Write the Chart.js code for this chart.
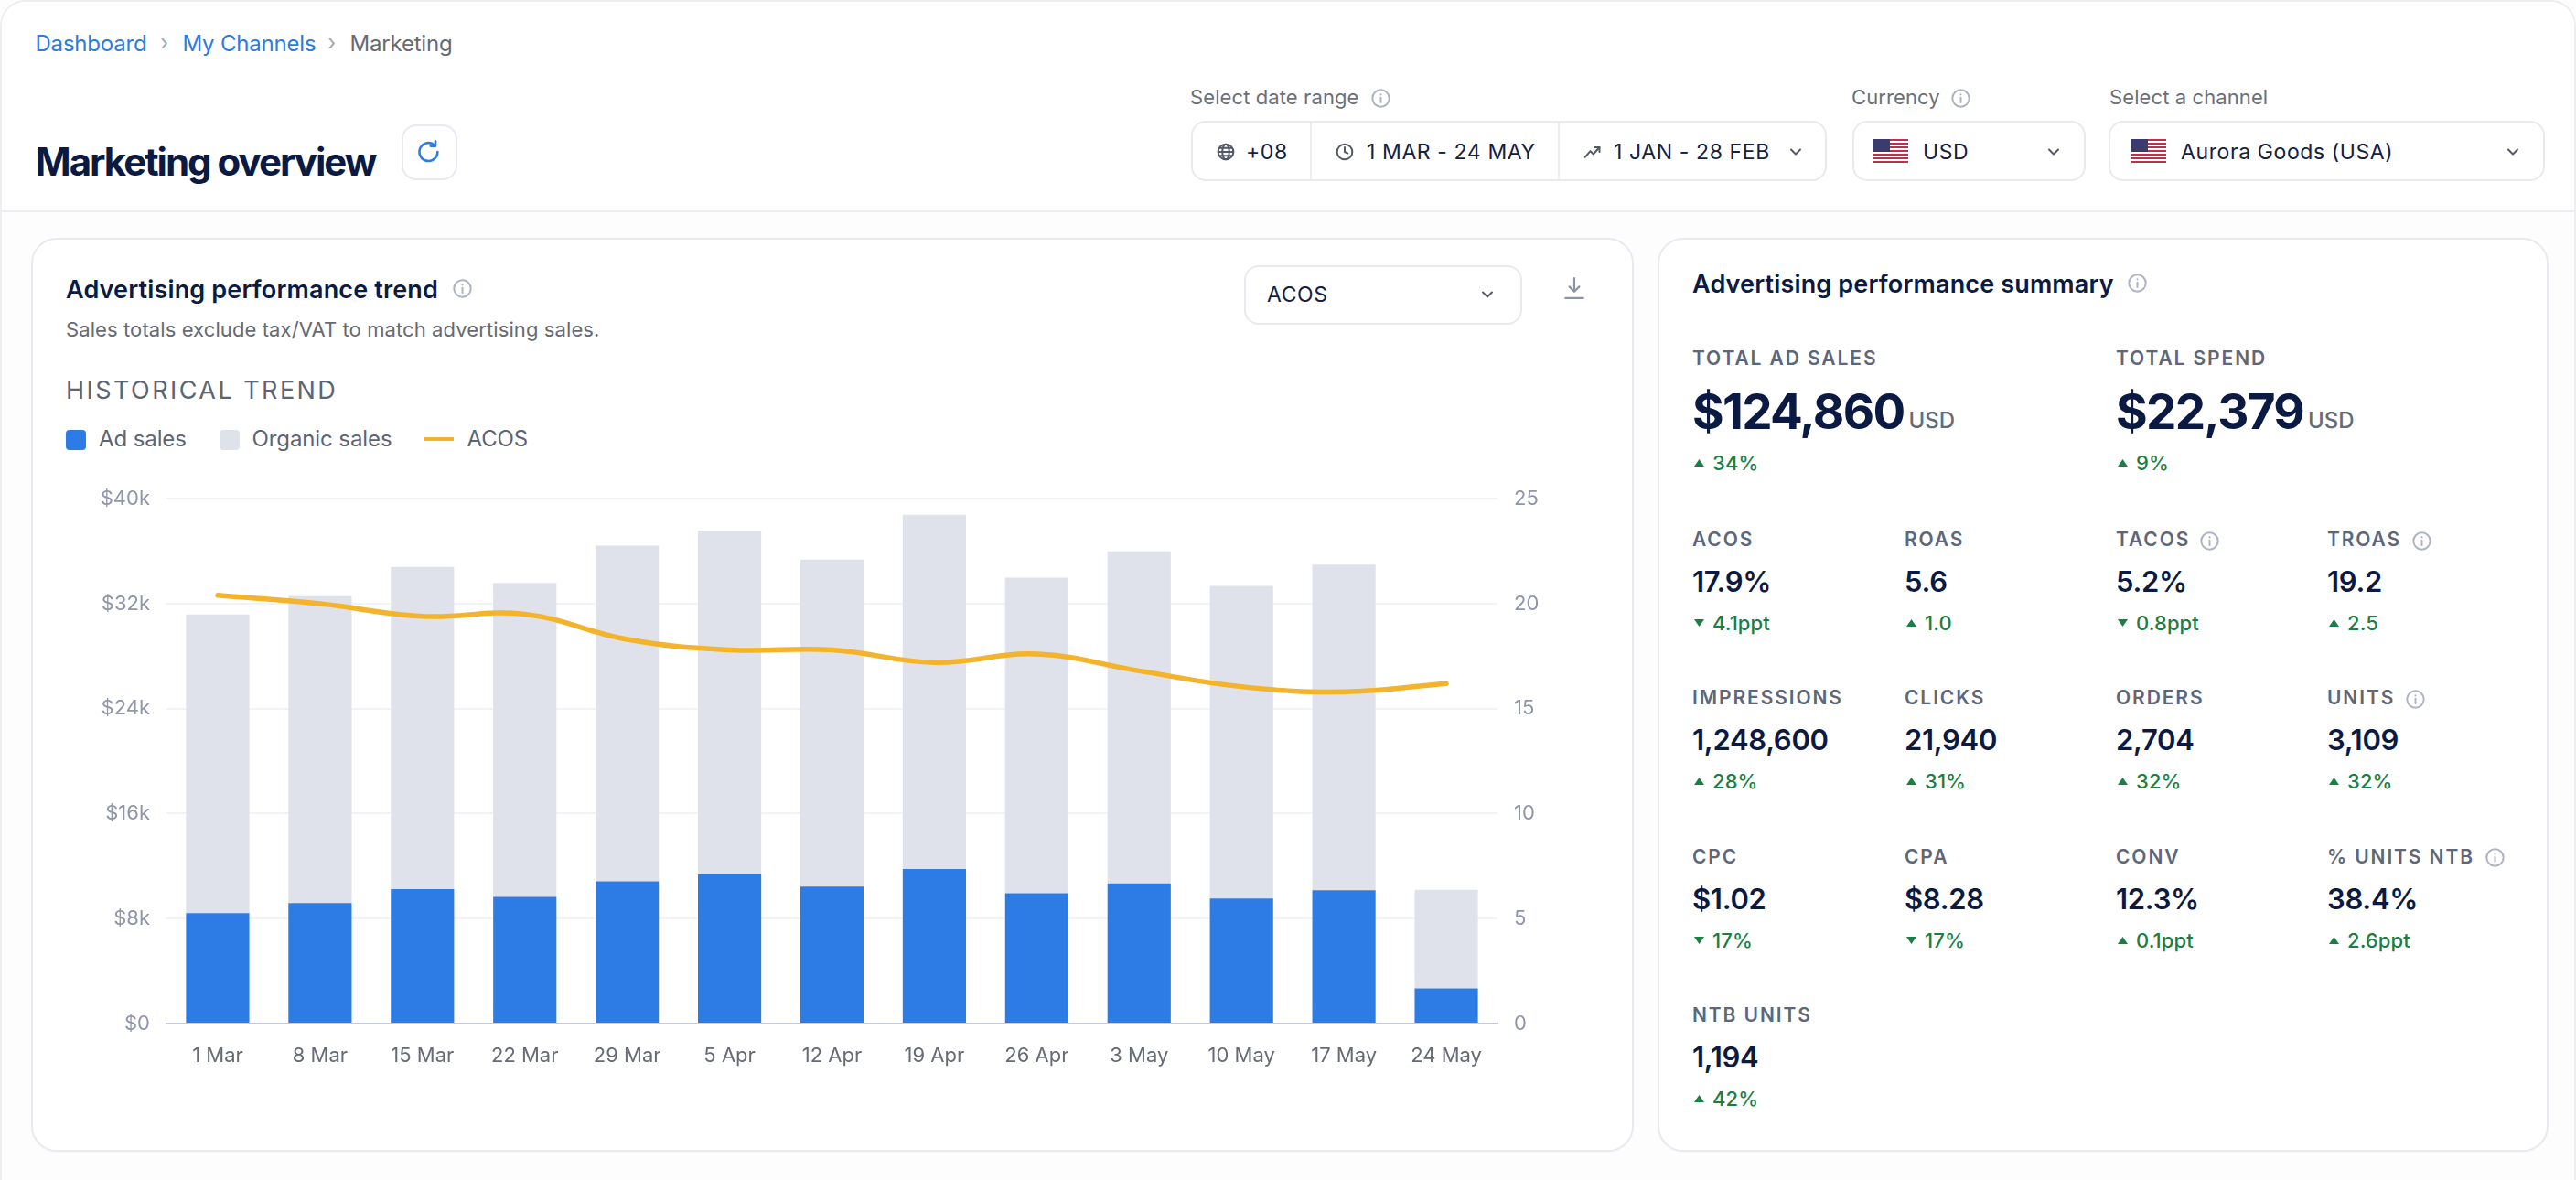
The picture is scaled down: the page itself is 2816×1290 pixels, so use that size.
<!DOCTYPE html>
<html>
<head>
<meta charset="utf-8">
<title>Marketing overview</title>
<script src="https://cdn.jsdelivr.net/npm/chart.js@4"></script>
<style>
  html, body { margin: 0; padding: 0; background: #fdfdfe; }
  body { width: 2816px; height: 1290px; position: relative; overflow: hidden; font-family: Inter, "Noto Sans", sans-serif; color: #0b1a42; }
  .frame { position: absolute; left: 0; top: 0; width: 2812px; height: 1300px; border: 2px solid #eceef2; border-radius: 28px 28px 0 0; }
  .header { position: absolute; left: 2px; top: 2px; width: 2812px; height: 228px; background: #fff; border-bottom: 2px solid #eceef2; border-radius: 26px 26px 0 0; }
  .t { position: absolute; white-space: nowrap; line-height: 1; transform: translateY(-50%); }
  .box { position: absolute; box-sizing: border-box; background: #fff; border: 2px solid #e9eaef; border-radius: 16px; }
  .card { position: absolute; box-sizing: border-box; background: #fff; border: 2px solid #e9eaef; border-radius: 28px; top: 260px; height: 999px; box-shadow: 0 1px 2px rgba(20,30,60,.03); }
  .vline { position: absolute; width: 2px; top: 134px; height: 62px; background: #eceef2; }
  svg.i { position: absolute; overflow: visible; }
  .crumb { font-size: 24px; letter-spacing: -.2px; }
  .lab { font-size: 22px; color: #6b6f78; letter-spacing: .1px; }
  .sel { font-size: 23px; font-weight: 400; color: #14213f; letter-spacing: .6px; }
  .h2 { font-size: 27px; font-weight: 600; letter-spacing: .15px; }
  .mname { font-size: 21px; font-weight: 600; color: #5e6679; letter-spacing: 1.9px; }
  .mval { font-size: 31px; font-weight: 600; letter-spacing: -.3px; }
  .mbig { font-size: 53px; font-weight: 700; letter-spacing: -1.7px; }
  .mdelta { font-size: 22px; font-weight: 500; color: #1a7f43; letter-spacing: .1px; }
  .musd { font-size: 24px; font-weight: 500; color: #666b75; }
  .lg { font-size: 24px; color: #5d6472; letter-spacing: -.1px; }
  #chartWrap { position: absolute; left: 60px; top: 514px; width: 1700px; height: 686px; }
</style>
</head>
<body>
<div class="frame"></div>
<div class="header"></div>
<div class="card" style="left:34px;width:1752px"></div>
<div class="card" style="left:1812px;width:974px"></div>
<div id="chartWrap"><canvas id="trendChart" width="1700" height="686"></canvas></div>
<div id="ui"></div>

<script>
// chart data
const categories = ["1 Mar", "8 Mar", "15 Mar", "22 Mar", "29 Mar", "5 Apr", "12 Apr", "19 Apr", "26 Apr", "3 May", "10 May", "17 May", "24 May"];
const adSales = [8410, 9190, 10250, 9660, 10840, 11370, 10440, 11780, 9940, 10690, 9530, 10160, 2680];
const organicSales = [22770, 23390, 24550, 23920, 25580, 26200, 24920, 27000, 24050, 25290, 23830, 24820, 7510];
const acos = [20.4, 20.0, 19.4, 19.5, 18.3, 17.8, 17.8, 17.2, 17.6, 16.8, 16.05, 15.8, 16.2];
const salesTicks = ["$0", "$8k", "$16k", "$24k", "$32k", "$40k"];
const acosTicks = ["0", "5", "10", "15", "20", "25"];

// summary panel
const bigNames = ["TOTAL AD SALES", "TOTAL SPEND"];
const bigValues = ["$124,860", "$22,379"];
const bigDeltas = ["34%", "9%"];
const metricNames = ["ACOS", "ROAS", "TACOS", "TROAS", "IMPRESSIONS", "CLICKS", "ORDERS", "UNITS", "CPC", "CPA", "CONV", "% UNITS NTB", "NTB UNITS"];
const metricValues = ["17.9%", "5.6", "5.2%", "19.2", "1,248,600", "21,940", "2,704", "3,109", "$1.02", "$8.28", "12.3%", "38.4%", "1,194"];
const metricDeltas = ["4.1ppt", "1.0", "0.8ppt", "2.5", "28%", "31%", "32%", "32%", "17%", "17%", "0.1ppt", "2.6ppt", "42%"];
const metricDown = ["ACOS", "TACOS", "CPC", "CPA"];
const metricInfo = { TACOS: 2415, TROAS: 2647, UNITS: 2640, "% UNITS NTB": 2727 };

const ui = document.getElementById("ui");

function text(str, x, y, cls, extra) {
  const el = document.createElement("div");
  el.className = "t " + (cls || "");
  el.textContent = str;
  el.style.left = x + "px";
  el.style.top = y + "px";
  if (extra) el.style.cssText += extra;
  ui.appendChild(el);
  return el;
}

function box(x, y, w, h) {
  const el = document.createElement("div");
  el.className = "box";
  el.style.cssText = `left:${x}px;top:${y}px;width:${w}px;height:${h}px`;
  ui.appendChild(el);
}

function icon(inner, cx, cy, size, color, sw) {
  const s = size / 24;
  ui.insertAdjacentHTML("beforeend",
    `<svg class="i" viewBox="0 0 24 24" width="${size}" height="${size}" style="left:${cx - size / 2}px;top:${cy - size / 2}px" fill="none" stroke="${color}" stroke-width="${(sw || 2) / s}" stroke-linecap="round" stroke-linejoin="round">${inner}</svg>`);
}

const INFO = '<circle cx="12" cy="12" r="10.5"/><line x1="12" y1="11" x2="12" y2="17"/><line x1="12" y1="7.2" x2="12" y2="7.3"/>';
const CHEV = '<polyline points="6,9 12,15 18,9"/>';
const GLOBE = '<circle cx="12" cy="12" r="10"/><ellipse cx="12" cy="12" rx="4.5" ry="10"/><line x1="2" y1="12" x2="22" y2="12"/><line x1="3.5" y1="7" x2="20.5" y2="7"/><line x1="3.5" y1="17" x2="20.5" y2="17"/>';
const CLOCK = '<circle cx="12" cy="12" r="10"/><polyline points="12,6 12,12 16,14"/>';
const TREND = '<polyline points="2,19 9,11 13,15 21,6"/><polyline points="15,6 21,6 21,12"/>';
const REFRESH = '<path d="M20 12a8.5 8.5 0 1 1-2.6-6.1"/><polyline points="18,2 18,6.5 13.5,6.5"/>';
const DOWNLOAD = '<line x1="12" y1="2" x2="12" y2="15"/><polyline points="7,10.5 12,15.5 17,10.5"/><line x1="3" y1="22" x2="21" y2="22"/>';

function flag(x, y) {
  let stripes = "";
  for (let i = 0; i < 7; i++) stripes += `<rect x="0" y="${i * 4}" width="38" height="2" fill="#c0304a"/>`;
  ui.insertAdjacentHTML("beforeend",
    `<svg class="i" viewBox="0 0 38 26" width="38" height="26" style="left:${x}px;top:${y}px;border-radius:4px"><rect width="38" height="26" fill="#fff"/>${stripes}<rect width="18" height="14" fill="#3c3b6e"/></svg>`);
}

// breadcrumb + title
text("Dashboard", 38.5, 47.5, "crumb", "color:#2d7be5");
text("›", 175, 47, "crumb", "color:#a5aab5");
text("My Channels", 199.5, 47.5, "crumb", "color:#2d7be5");
text("›", 358, 47, "crumb", "color:#a5aab5");
text("Marketing", 382.5, 47.5, "crumb", "color:#666a72");
text("Marketing overview", 38.5, 177, "", "font-size:42px;font-weight:700;letter-spacing:-2px");
box(439, 136, 61, 61);
icon(REFRESH, 469, 166, 28, "#2d7be5", 2.6);

// filters
text("Select date range", 1301, 106, "lab");
icon(INFO, 1509, 107, 21, "#aeb4c6");
box(1302, 132, 695, 66);
ui.insertAdjacentHTML("beforeend", '<div class="vline" style="left:1432px"></div><div class="vline" style="left:1703px"></div>');
icon(GLOBE, 1340, 166, 20, "#555a66");
text("+08", 1362, 166, "sel");
icon(CLOCK, 1470, 166, 20, "#555a66");
text("1 MAR - 24 MAY", 1494, 166, "sel");
icon(TREND, 1741, 166, 20, "#555a66");
text("1 JAN - 28 FEB", 1764, 166, "sel");
icon(CHEV, 1963, 166, 20, "#555a66");
text("Currency", 2024, 106, "lab");
icon(INFO, 2143, 107, 21, "#aeb4c6");
box(2025, 132, 255, 66);
flag(2048, 152);
text("USD", 2102, 166, "sel");
icon(CHEV, 2245, 166, 20, "#555a66");
text("Select a channel", 2306, 106, "lab");
box(2305, 132, 477, 66);
flag(2330, 152);
text("Aurora Goods (USA)", 2384, 166, "sel");
icon(CHEV, 2747, 166, 20, "#555a66");

// left card header
text("Advertising performance trend", 72, 316, "h2");
icon(INFO, 505, 315, 21, "#aeb4c6");
text("Sales totals exclude tax/VAT to match advertising sales.", 72, 360, "lab", "letter-spacing:.1px;color:#666a72");
box(1360, 290, 304, 65);
text("ACOS", 1385, 322, "sel");
icon(CHEV, 1626, 322, 20, "#555a66");
icon(DOWNLOAD, 1721, 315, 26, "#8d94a8", 2.2);
text("HISTORICAL TREND", 72, 426, "", "font-size:27px;color:#5d6472;letter-spacing:2.45px");

// right card header
text("Advertising performance summary", 1850, 310, "h2");
icon(INFO, 2336, 309, 21, "#aeb4c6");

function delta(str, x, y, down) {
  const pts = down ? "0,0 11,0 5.5,8" : "0,8 11,8 5.5,0";
  ui.insertAdjacentHTML("beforeend",
    `<svg class="i" viewBox="0 0 11 8" width="11" height="8" style="left:${x + 2}px;top:${y - 4}px"><polygon points="${pts}" fill="#1a7f43"/></svg>`);
  text(str, x + 22, y, "mdelta");
}

const colX = [1850, 2082, 2313, 2544];
bigNames.forEach((name, i) => {
  const x = colX[i * 2];
  text(name, x, 390.5, "mname");
  const v = text(bigValues[i], x, 450, "mbig");
  text("USD", x + v.getBoundingClientRect().width + 5, 460, "musd");
  delta(bigDeltas[i], x, 506, false);
});
metricNames.forEach((name, i) => {
  const x = colX[i % 4];
  const row = Math.floor(i / 4);
  const y = 589 + row * 173.4;
  text(name, x, y, "mname");
  text(metricValues[i], x, y + 46, "mval");
  delta(metricDeltas[i], x, y + 92, metricDown.includes(name));
  if (metricInfo[name]) icon(INFO, metricInfo[name], y + 2, 21, "#aeb4c6");
});

// chart
const datasets = [
  { type: "line", label: "ACOS", data: acos, yAxisID: "yAcos", borderColor: "#f3b32b", borderWidth: 5.5, borderCapStyle: "round", pointRadius: 0, tension: 0.4, order: 0 },
  { type: "bar", label: "Ad sales", data: adSales, yAxisID: "ySales", backgroundColor: "#2d7be5", stack: "sales", order: 1, barPercentage: 0.618, categoryPercentage: 1 },
  { type: "bar", label: "Organic sales", data: organicSales, yAxisID: "ySales", backgroundColor: "#dfe2ea", stack: "sales", order: 1, barPercentage: 0.618, categoryPercentage: 1 },
];

new Chart(document.getElementById("trendChart"), {
  data: { labels: categories, datasets: datasets },
  options: {
    responsive: false,
    animation: false,
    plugins: { legend: { display: false }, tooltip: { enabled: false } },
    scales: {
      x: {
        stacked: true,
        grid: { display: false, drawTicks: false },
        border: { display: true, color: "#c6cad9", width: 2 },
        ticks: { color: "#666b75", font: { family: "Inter", size: 22 }, padding: 22, maxRotation: 0, autoSkip: false },
        afterFit: (s) => { s.height = 81; },
      },
      ySales: {
        position: "left",
        stacked: true,
        min: 0,
        max: 40000,
        grid: { color: "#f2f3f6", lineWidth: 2, drawTicks: false },
        border: { display: false },
        ticks: { stepSize: 8000, color: "#8f96ab", font: { family: "Inter", size: 22 }, padding: 18, callback: (v, i) => salesTicks[i] },
        afterFit: (s) => { s.width = 122; },
      },
      yAcos: {
        position: "right",
        min: 0,
        max: 25,
        grid: { display: false, drawTicks: false },
        border: { display: false },
        ticks: { stepSize: 5, color: "#8f96ab", font: { family: "Inter", size: 22 }, padding: 18, callback: (v, i) => acosTicks[i] },
        afterFit: (s) => { s.width = 123; },
      },
    },
  },
});

// legend, taken from the dataset list
const legendX = { "Ad sales": 72, "Organic sales": 240, "ACOS": 464 };
datasets.slice(1).concat(datasets[0]).forEach((d) => {
  const x = legendX[d.label];
  const el = document.createElement("div");
  if (d.type === "bar") {
    el.style.cssText = `position:absolute;left:${x}px;top:470px;width:21.5px;height:22px;border-radius:4px;background:${d.backgroundColor}`;
    ui.appendChild(el);
    text(d.label, x + (d.label === "Ad sales" ? 36 : 35.5), 480, "lg");
  } else {
    el.style.cssText = `position:absolute;left:${x}px;top:478px;width:32px;height:4px;background:${d.borderColor}`;
    ui.appendChild(el);
    text(d.label, x + 46.5, 480, "lg");
  }
});
</script>
</body>
</html>
